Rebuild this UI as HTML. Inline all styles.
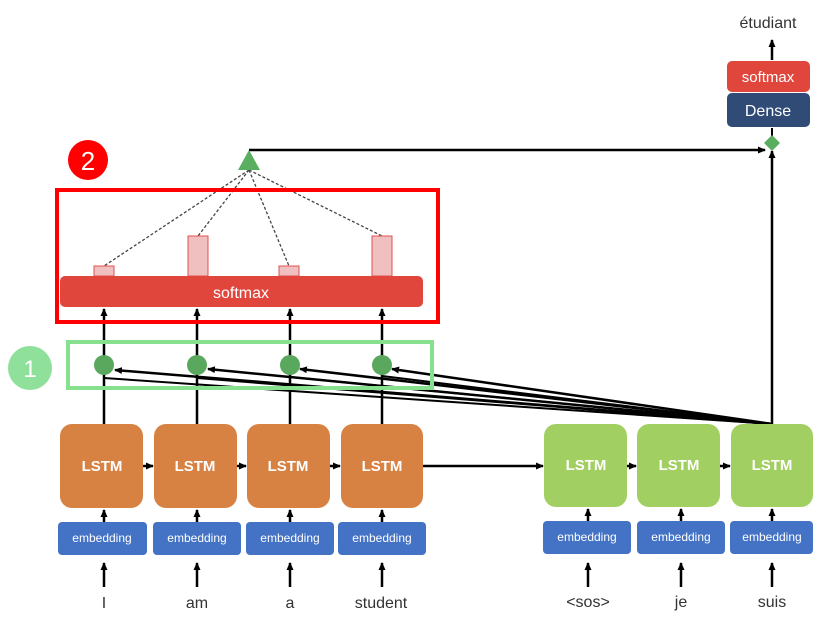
<!DOCTYPE html>
<html><head><style>body{margin:0;background:#fff}svg{display:block}</style></head><body>
<svg width="817" height="629" xmlns="http://www.w3.org/2000/svg" font-family="Liberation Sans, sans-serif">
<defs><marker id="a" markerUnits="userSpaceOnUse" markerWidth="8" markerHeight="8" refX="7" refY="4" orient="auto"><path d="M0,0.5L8,4L0,7.5z" fill="#000"/></marker></defs>
<g stroke="#000" stroke-width="2.5" fill="none" marker-end="url(#a)">
<line x1="104" y1="587" x2="104" y2="563"/><line x1="197" y1="587" x2="197" y2="563"/><line x1="290" y1="587" x2="290" y2="563"/><line x1="382" y1="587" x2="382" y2="563"/>
<line x1="588" y1="587" x2="588" y2="563"/><line x1="681" y1="587" x2="681" y2="563"/><line x1="772" y1="587" x2="772" y2="563"/>
<line x1="104" y1="522" x2="104" y2="510"/><line x1="197" y1="522" x2="197" y2="510"/><line x1="290" y1="522" x2="290" y2="510"/><line x1="382" y1="522" x2="382" y2="510"/>
<line x1="588" y1="522" x2="588" y2="509"/><line x1="681" y1="522" x2="681" y2="509"/><line x1="772" y1="522" x2="772" y2="509"/>
<line x1="143" y1="466" x2="153" y2="466"/><line x1="237" y1="466" x2="246" y2="466"/><line x1="330" y1="466" x2="340" y2="466"/>
<line x1="423" y1="466" x2="543" y2="466"/><line x1="627" y1="466" x2="636" y2="466"/><line x1="720" y1="466" x2="730" y2="466"/>
<line x1="104" y1="424" x2="104" y2="309"/><line x1="197" y1="424" x2="197" y2="309"/><line x1="290" y1="424" x2="290" y2="309"/><line x1="382" y1="424" x2="382" y2="309"/>
<line x1="772" y1="424" x2="115" y2="370"/><line x1="772" y1="424" x2="208" y2="369"/><line x1="772" y1="424" x2="300" y2="369"/><line x1="772" y1="424" x2="392" y2="369"/>
<polyline points="249,150 765,150"/>
<line x1="772" y1="424" x2="772" y2="151"/>
<line x1="772" y1="60" x2="772" y2="40"/>
</g>
<g stroke="#000" stroke-width="2" fill="none">
<line x1="772" y1="150" x2="772" y2="128"/>
<line x1="772" y1="424" x2="104" y2="378"/><line x1="772" y1="424" x2="197" y2="378"/><line x1="772" y1="424" x2="290" y2="377"/><line x1="772" y1="424" x2="382" y2="376"/>
</g>
<g stroke="#444" stroke-width="1.3" stroke-dasharray="3,2" fill="none">
<line x1="249" y1="170" x2="104" y2="266"/><line x1="249" y1="170" x2="198" y2="236"/><line x1="249" y1="170" x2="289" y2="266"/><line x1="249" y1="170" x2="382" y2="236"/>
</g>
<polygon points="249,150 238,170 260,170" fill="#5aae5f"/>
<polygon points="772,135 780,143 772,151 764,143" fill="#5aae5f"/>
<rect x="57" y="190" width="381" height="132" fill="none" stroke="#f00" stroke-width="4"/>
<rect x="68" y="342" width="364" height="46" fill="none" stroke="#86e08e" stroke-width="4"/>
<g fill="#f0c0c0" stroke="#e05050" stroke-width="1">
<rect x="94" y="266" width="20" height="10"/><rect x="188" y="236" width="20" height="40"/><rect x="279" y="266" width="20" height="10"/><rect x="372" y="236" width="20" height="40"/>
</g>
<rect x="60" y="276" width="363" height="31" rx="5" fill="#e0463c"/>
<text x="241" y="298" font-size="16" fill="#fff" text-anchor="middle">softmax</text>
<g fill="#5aa85d"><circle cx="104" cy="365" r="10"/><circle cx="197" cy="365" r="10"/><circle cx="290" cy="365" r="10"/><circle cx="382" cy="365" r="10"/></g>
<circle cx="88" cy="160" r="20" fill="#f00"/><text x="88" y="170" font-size="26" fill="#fff" text-anchor="middle">2</text>
<circle cx="30" cy="368" r="22" fill="#8ee09a"/><text x="30" y="377" font-size="24" fill="#fff" text-anchor="middle">1</text>
<g fill="#d78242"><rect x="60" y="424" width="83" height="84" rx="12"/><rect x="154" y="424" width="83" height="84" rx="12"/><rect x="247" y="424" width="83" height="84" rx="12"/><rect x="341" y="424" width="82" height="84" rx="12"/></g>
<g fill="#a2cf61"><rect x="544" y="424" width="83" height="83" rx="12"/><rect x="637" y="424" width="83" height="83" rx="12"/><rect x="731" y="424" width="82" height="83" rx="12"/></g>
<g font-size="15" font-weight="bold" fill="#fff" text-anchor="middle">
<text x="102" y="471">LSTM</text><text x="195" y="471">LSTM</text><text x="288" y="471">LSTM</text><text x="382" y="471">LSTM</text>
<text x="586" y="470">LSTM</text><text x="679" y="470">LSTM</text><text x="772" y="470">LSTM</text></g>
<g fill="#4472c4"><rect x="58" y="522" width="89" height="33" rx="4"/><rect x="153" y="522" width="88" height="33" rx="4"/><rect x="246" y="522" width="88" height="33" rx="4"/><rect x="338" y="522" width="88" height="33" rx="4"/>
<rect x="543" y="521" width="88" height="33" rx="4"/><rect x="637" y="521" width="88" height="33" rx="4"/><rect x="730" y="521" width="83" height="33" rx="4"/></g>
<g font-size="12" fill="#fff" text-anchor="middle">
<text x="102" y="542">embedding</text><text x="197" y="542">embedding</text><text x="290" y="542">embedding</text><text x="382" y="542">embedding</text>
<text x="587" y="541">embedding</text><text x="681" y="541">embedding</text><text x="772" y="541">embedding</text></g>
<g font-size="16" fill="#333" text-anchor="middle">
<text x="104" y="608">I</text><text x="197" y="608">am</text><text x="290" y="608">a</text><text x="381" y="608">student</text>
<text x="588" y="607">&lt;sos&gt;</text><text x="681" y="607">je</text><text x="772" y="607">suis</text>
<text x="768" y="28">étudiant</text></g>
<rect x="727" y="61" width="83" height="31" rx="5" fill="#e0463c"/><text x="768" y="82" font-size="15" fill="#fff" text-anchor="middle">softmax</text>
<rect x="727" y="93" width="83" height="34" rx="5" fill="#2f4b76"/><text x="768" y="116" font-size="16" fill="#fff" text-anchor="middle">Dense</text>
</svg></body></html>
